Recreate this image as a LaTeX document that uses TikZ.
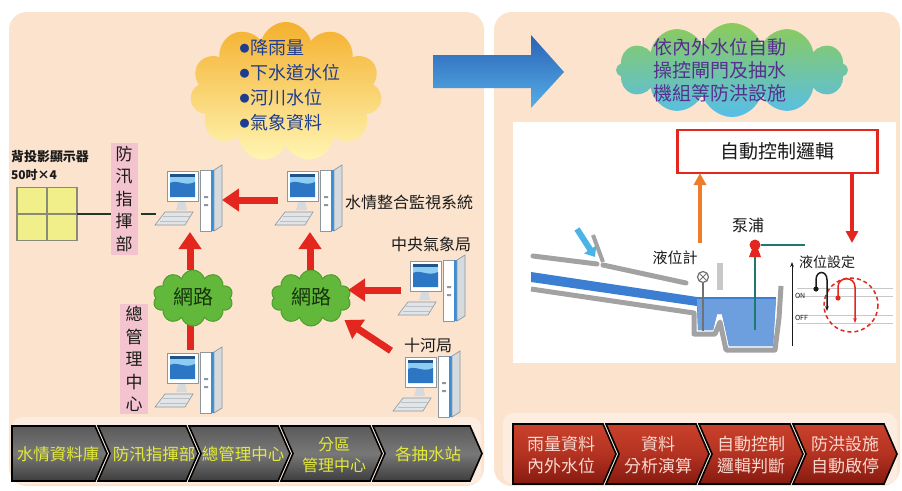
\documentclass[tikz,border=0pt]{standalone}
\usepackage{fontspec}
\setmainfont{Noto Sans CJK TC}
\usetikzlibrary{shapes.symbols,arrows.meta,calc}

\definecolor{panel}{HTML}{FCE3CE}
\definecolor{panelLight}{HTML}{FDEDE0}
\definecolor{ink}{HTML}{1A1A1A}
\definecolor{redA}{HTML}{E3261E}
\definecolor{tagPink}{HTML}{F3C4CF}
\definecolor{netGreen}{HTML}{62B83A}
\definecolor{netEdge}{HTML}{4F9C2C}
\definecolor{netInk}{HTML}{16320E}
\definecolor{sunTop}{HTML}{F4B02E}
\definecolor{sunBot}{HTML}{FFF6B4}
\definecolor{bulletInk}{HTML}{1F3D8F}
\definecolor{seaTop}{HTML}{8CCB5A}
\definecolor{seaBot}{HTML}{56BEEA}
\definecolor{violetInk}{HTML}{55308F}
\definecolor{arrowTop}{HTML}{2A62B6}
\definecolor{arrowBot}{HTML}{55AEE6}
\definecolor{chevYellow}{HTML}{E2EA3A}
\definecolor{chevPink}{HTML}{FAD8CF}
\definecolor{grayTop}{HTML}{5A5A5A}
\definecolor{grayMid}{HTML}{787878}
\definecolor{grayBot}{HTML}{3E3E3E}
\definecolor{redTop}{HTML}{C9412B}
\definecolor{redMid}{HTML}{B33221}
\definecolor{redBot}{HTML}{861A10}
\definecolor{screenDark}{HTML}{2C76C4}
\definecolor{screenLight}{HTML}{8ECDF2}
\definecolor{caseEdge}{HTML}{8E969E}
\definecolor{caseSide}{HTML}{D5DADF}
\definecolor{caseBlue}{HTML}{3A8FD6}
\definecolor{keyGray}{HTML}{E2E5E8}
\definecolor{gridFill}{HTML}{F1EF8A}
\definecolor{gridEdge}{HTML}{8A8A78}
\definecolor{wireGreen}{HTML}{22362A}
\definecolor{orangeA}{HTML}{EE7D2B}
\definecolor{pipeTeal}{HTML}{1E7A6C}
\definecolor{bank}{HTML}{A2A2A2}
\definecolor{water}{HTML}{3C7ED2}
\definecolor{inflow}{HTML}{4CB3E6}
\definecolor{rule}{HTML}{C8C8C8}

% small round bullet in front of each data item
\newcommand\dotitem{\raisebox{2pt}{\fontsize{10}{10}\selectfont●}\kern1pt}

\tikzset{
  computer/.pic={
    % keyboard
    \filldraw[fill=keyGray, draw=caseEdge, line width=0.6pt]
      (-25,12) -- (3,12) -- (-5,25) -- (-35,25) -- cycle;
    \draw[caseEdge!60, line width=0.4pt] (-27,16.5) -- (0,16.5) (-30,21) -- (-3,21);
    % monitor stand
    \fill[caseSide] (-11,0) -- (-5,0) -- (-3,10) -- (-14,10) -- cycle;
    % monitor
    \filldraw[fill=white, draw=caseEdge, line width=0.7pt] (-23,-29) rectangle (8,1);
    \fill[screenLight] (-20,-26) rectangle (5,-3);
    \fill[screenDark] (-20,-17) .. controls (-13,-21) and (-5,-13) .. (5,-18)
      -- (5,-3) -- (-20,-3) -- cycle;
    \fill[screenDark!70!black] (-20,-26) rectangle (5,-23);
    % tower
    \filldraw[fill=white, draw=caseEdge, line width=0.7pt] (10,-30) rectangle (21,31);
    \fill[caseBlue] (21,-30) rectangle (24,31);
    \filldraw[fill=caseSide, draw=caseEdge, line width=0.7pt]
      (24,-30) -- (32,-35) -- (32,26) -- (24,31) -- cycle;
    \fill[caseEdge] (14,-4) rectangle (18,-2) (14,4) rectangle (18,6);
  }
}

\begin{document}
\begin{tikzpicture}[x=1pt,y=-1pt,
  every node/.style={inner sep=0pt, outer sep=0pt},
  lbl/.style={text=ink, font=\fontsize{16}{18}\selectfont},
  pcbox/.style={minimum width=64pt, minimum height=64pt},
  net/.style={cloud, cloud puffs=10, cloud ignores aspect, fill=netGreen,
    draw=netEdge, line width=1pt, minimum width=80pt, minimum height=56pt},
  nettext/.style={text=netInk, font=\fontsize{20}{22}\selectfont},
  tag/.style={fill=tagPink, text=ink, align=center, font=\fontsize{17}{22.5}\selectfont},
  bigred/.style={draw=redA, line width=7pt, -{Triangle[length=17pt,width=22pt]}},
  chevgray/.style={draw=black, line width=1.6pt, top color=grayTop, bottom color=grayBot, middle color=grayMid},
  chevred/.style={draw=black, line width=1.6pt, top color=redTop, bottom color=redBot, middle color=redMid},
  graytext/.style={text=chevYellow, align=center, font=\fontsize{16.5}{20}\selectfont},
  redtext/.style={text=chevPink, align=center, font=\fontsize{17}{22}\selectfont},
]
\useasboundingbox (0,0) rectangle (902,490);
\fill[white] (0,0) rectangle (902,490);

% ---------- panels ----------
\fill[panel, rounded corners=18pt] (9,12) rectangle (484,486);
\fill[panel, rounded corners=18pt] (494,12) rectangle (900,486);
\fill[panelLight, rounded corners=10pt] (12,417) rectangle (481,484);
\fill[panelLight, rounded corners=10pt] (503,413) rectangle (897,484);

% ---------- big transfer arrow ----------
\shade[top color=arrowTop, bottom color=arrowBot]
  (433,55) -- (531,55) -- (531,35) -- (564,72) -- (531,108) -- (531,88) -- (433,88) -- cycle;

% ---------- data cloud ----------
\node[cloud, cloud puffs=11, cloud ignores aspect, minimum width=192pt, minimum height=140pt,
      top color=sunTop, bottom color=sunBot] (datacloud) at (286,92) {};
\node[text=bulletInk, align=left, font=\fontsize{18}{25}\selectfont] (datatext) at (290,85)
  {\dotitem 降雨量\\\dotitem 下水道水位\\\dotitem 河川水位\\\dotitem 氣象資料};

% ---------- display wall ----------
\node[lbl, anchor=west, font=\bfseries\fontsize{13}{14}\selectfont] (wallname) at (11,157) {背投影顯示器};
\node[lbl, anchor=west, font=\bfseries\fontsize{12}{14}\selectfont] (wallsize) at (11,175) {50吋×4};
\node[fill=gridFill, draw=gridEdge, line width=1.6pt, minimum width=60pt, minimum height=53pt]
  (display) at (47,214) {};
\draw[gridEdge, line width=1.6pt] (display.north) -- (display.south) (display.west) -- (display.east);

% ---------- tags ----------
\node[tag, minimum width=27pt, minimum height=112pt] (cmdtag) at (124,199) {防\\汛\\指\\揮\\部};
\node[tag, minimum width=28pt, minimum height=110pt] (mgmttag) at (134,359) {總\\管\\理\\中\\心};

% ---------- computers ----------
\node[pcbox] (pc1) at (190,200) {};
\node[pcbox] (pc2) at (310,200) {};
\node[pcbox] (pc3) at (190,382) {};
\node[pcbox] (pc4) at (433,290) {};
\node[pcbox] (pc5) at (428,386) {};

\draw[wireGreen, line width=2.5pt] (display.east) -- (cmdtag.west |- display.east);
\draw[wireGreen, line width=2.5pt] ([xshift=3pt]cmdtag.east |- display.east) -- ([xshift=-2pt]pc1.west |- display.east);

\draw[redA, line width=7pt] (pc3.north) -- (pc3.north |- 0,300);

\node[net] (net1) at (193,298) {};
\node[nettext] (net1text) at (193,297) {網路};
\node[net] (net2) at (311,298) {};
\node[nettext] (net2text) at (311,297) {網路};

\foreach \p in {pc1,pc2,pc3,pc4,pc5} { \pic at (\p) {computer}; }

\draw[bigred] (pc2.west) -- (pc1.east);
\draw[bigred] (pc1.south |- net1.north) -- (pc1.south);
\draw[bigred] (pc2.south |- net2.north) -- (pc2.south);
\draw[bigred] (pc4.west) -- (net2.east |- pc4.west);
\draw[bigred, shorten <=6pt, shorten >=40pt] (pc5.north west) -- (net2.center);

\node[lbl, anchor=west] (sysname) at (345,202) {水情整合監視系統};
\node[lbl] (cwbname) at (431,244) {中央氣象局};
\node[lbl] (riverbureau) at (428,345) {十河局};

% ---------- left chevrons ----------
\path[chevgray] (12,426) -- (95,426) -- ++(12,27.5) -- ++(-12,27.5) -- (12,481) -- cycle;
\path[chevgray] (98,426) -- (186,426) -- ++(12,27.5) -- ++(-12,27.5) -- (98,481) -- ++(12,-27.5) -- cycle;
\path[chevgray] (189,426) -- (278,426) -- ++(12,27.5) -- ++(-12,27.5) -- (189,481) -- ++(12,-27.5) -- cycle;
\path[chevgray] (281,426) -- (370,426) -- ++(12,27.5) -- ++(-12,27.5) -- (281,481) -- ++(12,-27.5) -- cycle;
\path[chevgray] (373,426) -- (470,426) -- ++(12,27.5) -- ++(-12,27.5) -- (373,481) -- ++(12,-27.5) -- cycle;
\node[graytext] (g1) at (58,454) {水情資料庫};
\node[graytext] (g2) at (154,454) {防汛指揮部};
\node[graytext] (g3) at (243,454) {總管理中心};
\node[graytext, font=\fontsize{16}{21}\selectfont] (g4) at (334,455) {分區\\管理中心};
\node[graytext] (g5) at (428,454) {各抽水站};

% ---------- control cloud ----------
\node[cloud, cloud puffs=12, cloud ignores aspect, minimum width=232pt, minimum height=94pt,
      top color=seaTop, bottom color=seaBot] (ctrlcloud) at (732,70) {};
\node[text=violetInk, align=center, font=\fontsize{19}{23}\selectfont] (ctrltext) at (720,70)
  {依內外水位自動\\操控閘門及抽水\\機組等防洪設施};

% ---------- control scheme ----------
\fill[white] (513,122) rectangle (896,363);

\node[draw=redA, line width=2.5pt, fill=white, minimum width=200pt, minimum height=43pt,
      text=ink, font=\fontsize{19}{20}\selectfont] (logic) at (777.5,151.5) {自動控制邏輯};

% channel banks and water
\draw[bank, line width=5pt, line join=round]
  (531,289) -- (694,313) -- (694,334) -- (715,334) -- (720,322) -- (726,350) -- (775,350) -- (779,318) -- (781,286);
\fill[water] (531,272) -- (697,297) -- (776,297) -- (773,346) -- (729,346) -- (722,314) -- (717,314)
  -- (713,330) -- (698,330) -- (697,306) -- (531,282) -- cycle;
\fill[water!75!white] (697,299) -- (776,299) -- (773,346) -- (729,346) -- (722,314) -- (717,314)
  -- (713,330) -- (698,330) -- cycle;
\draw[bank, line width=5pt, line cap=round] (533,256) -- (597,264);
\draw[bank, line width=5pt, line cap=round] (603,265) -- (686,283);
\draw[bank, line width=4pt] (593,235) -- (603,262);
\draw[inflow, line width=6pt, -{Triangle[length=9pt,width=14pt]}] (577,229) -- (595,257);

% level gauge
\fill[rule] (717,263) rectangle (723,290);
\node[circle, draw=bank!70!black, line width=1.2pt, fill=white, minimum size=11pt] (gauge) at (703,277) {};
\draw[bank!70!black, line width=1pt] (gauge.45) -- (gauge.225) (gauge.135) -- (gauge.315);
\draw[bank!70!black, line width=1.2pt] (gauge.south) -- (703,331);
\node[lbl, font=\fontsize{15}{16}\selectfont] (gaugename) at (675,258) {液位計};

% pump
\node[circle, fill=redA, minimum size=11pt] (pump) at (755,245) {};
\fill[redA] (749,257) -- (761,257) -- (758,249) -- (752,249) -- cycle;
\draw[pipeTeal, line width=2.5pt] (pump.east) -- (805,245);
\draw[pipeTeal, line width=2.5pt] ([yshift=-6pt]pump.south) -- (755,330);
\node[lbl, font=\fontsize{16}{17}\selectfont] (pumpname) at (748,225) {泵浦};

% signal arrows
\coordinate (gtop) at (700,243);
\draw[orangeA, line width=4pt, -{Triangle[length=12pt,width=12pt]}] (gtop) -- (gtop |- logic.south);
\coordinate (lset) at (852,243);
\draw[redA, line width=4pt, -{Triangle[length=12pt,width=12pt]}] (lset |- logic.south) -- (lset);

% level setting
\node[lbl, font=\fontsize{14}{15}\selectfont] (setname) at (827,262) {液位設定};
\draw[rule, line width=0.6pt] (797,288) -- (893,288) (797,296) -- (893,296) (797,315) -- (893,315) (797,323) -- (893,323);
\draw[ink, line width=1pt, -{Stealth[length=5pt]}] (792,346) -- (792,262);
\node[text=ink, font=\fontsize{7}{8}\selectfont, anchor=west] (onmark) at (795,296) {ON};
\node[text=ink, font=\fontsize{7}{8}\selectfont, anchor=west] (offmark) at (795,318) {OFF};
\draw[redA, line width=1.5pt, dash pattern=on 4pt off 3pt] (851,305) circle[radius=27];
\draw[ink, line width=1.5pt, -{Stealth[length=5pt]}]
  (816,289) -- (816,280) .. controls (816,270) and (827,270) .. (827,280) -- (827,311);
\fill[ink] (816,289) circle[radius=2.6];
\draw[redA, line width=1.5pt, -{Stealth[length=5pt]}]
  (838,298) -- (838,287) .. controls (838,276) and (855,276) .. (855,287) -- (855,323);
\fill[redA] (838,298) circle[radius=2.6];

% ---------- right chevrons ----------
\path[chevred] (513,424) -- (603,424) -- ++(13,30) -- ++(-13,30) -- (513,484) -- cycle;
\path[chevred] (606,424) -- (696,424) -- ++(13,30) -- ++(-13,30) -- (606,484) -- ++(13,-30) -- cycle;
\path[chevred] (699,424) -- (790,424) -- ++(13,30) -- ++(-13,30) -- (699,484) -- ++(13,-30) -- cycle;
\path[chevred] (793,424) -- (884,424) -- ++(13,30) -- ++(-13,30) -- (793,484) -- ++(13,-30) -- cycle;
\node[redtext] (r1) at (561,455) {雨量資料\\內外水位};
\node[redtext] (r2) at (658,455) {資料\\分析演算};
\node[redtext] (r3) at (751,455) {自動控制\\邏輯判斷};
\node[redtext] (r4) at (845,455) {防洪設施\\自動啟停};
\end{tikzpicture}
\end{document}
